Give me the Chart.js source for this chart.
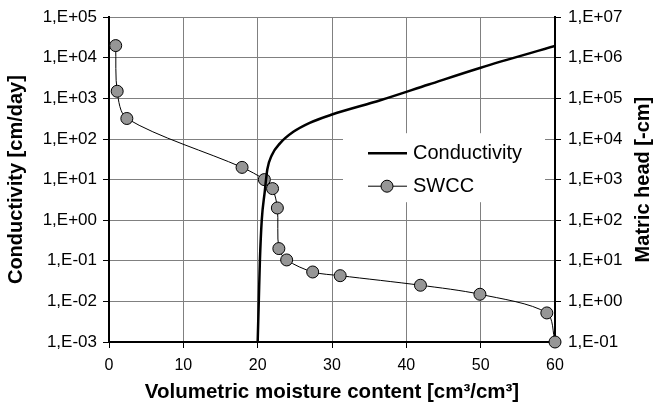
<!DOCTYPE html>
<html>
<head>
<meta charset="utf-8">
<script src="https://cdn.jsdelivr.net/npm/chart.js@4/dist/chart.umd.min.js"></script>
<style>
  html, body { margin: 0; padding: 0; background: #fff; }
  #wrap { width: 655px; height: 407px; }
</style>
</head>
<body>
<div id="wrap"><canvas id="chart" width="655" height="407"></canvas></div>
<script>
// data
const condTheta = [20.0, 20.15, 20.3, 20.55, 20.95, 21.3, 21.9, 23.0, 24.8, 27.0, 30.0, 36.5, 43.0, 50.0, 60.0];
const condK     = [0.001, 0.01, 0.1, 1, 5, 18, 40, 78, 150, 250, 400, 900, 2200, 5700, 19500];

const swccTheta = [0.9, 1.1, 2.4, 17.9, 20.9, 22.0, 22.65, 22.85, 23.9, 27.4, 31.1, 41.9, 49.9, 58.9, 60.0];
const swccHead  = [2e6, 1.5e5, 3.2e4, 2.0e3, 1.0e3, 6.0e2, 2.0e2, 20, 10.5, 5.3, 4.3, 2.5, 1.5, 0.52, 0.1];

const leftTicks  = [1e-3, 1e-2, 1e-1, 1e0, 1e1, 1e2, 1e3, 1e4, 1e5];
const rightTicks = [1e-1, 1e0, 1e1, 1e2, 1e3, 1e4, 1e5, 1e6, 1e7];

const FONT = "'Liberation Sans', Arial, sans-serif";

// excel style "1,E+05"
function sciLabel(v) {
  const e = Math.round(Math.log10(v));
  return '1,E' + (e < 0 ? '-' : '+') + String(Math.abs(e)).padStart(2, '0');
}

// legend box inside the plot (white background hides the grid)
const boxLegend = {
  id: 'boxLegend',
  beforeDatasetsDraw(chart) {
    const ctx = chart.ctx;
    const a = chart.chartArea;
    const x0 = a.left + 234, y0 = a.top + 116;
    ctx.save();
    ctx.fillStyle = '#fff';
    ctx.fillRect(x0, y0, 202, 69);

    ctx.strokeStyle = '#000';
    ctx.lineWidth = 2.5;
    ctx.beginPath();
    ctx.moveTo(x0 + 25, y0 + 20);
    ctx.lineTo(x0 + 64, y0 + 20);
    ctx.stroke();

    ctx.lineWidth = 1;
    ctx.beginPath();
    ctx.moveTo(x0 + 25, y0 + 53);
    ctx.lineTo(x0 + 64, y0 + 53);
    ctx.stroke();
    ctx.beginPath();
    ctx.arc(x0 + 44, y0 + 53, 6, 0, Math.PI * 2);
    ctx.fillStyle = '#969696';
    ctx.fill();
    ctx.stroke();

    ctx.fillStyle = '#000';
    ctx.font = '20px ' + FONT;
    ctx.textBaseline = 'middle';
    ctx.fillText('Conductivity', x0 + 70, y0 + 20);
    ctx.fillText('SWCC', x0 + 70, y0 + 53);
    ctx.restore();
  }
};

// right axis title reads bottom-to-top like the left one
const rightTitle = {
  id: 'rightTitle',
  afterDraw(chart) {
    const ctx = chart.ctx;
    const a = chart.chartArea;
    ctx.save();
    ctx.translate(chart.width - 12, (a.top + a.bottom) / 2);
    ctx.rotate(-Math.PI / 2);
    ctx.fillStyle = '#000';
    ctx.font = 'bold 20px ' + FONT;
    ctx.textAlign = 'center';
    ctx.textBaseline = 'middle';
    ctx.fillText('Matric head [-cm]', 0, 0);
    ctx.restore();
  }
};

const ctx = document.getElementById('chart').getContext('2d');
new Chart(ctx, {
  type: 'line',
  data: {
    datasets: [
      {
        label: 'Conductivity',
        data: condTheta.map((t, i) => ({ x: t, y: condK[i] })),
        yAxisID: 'y',
        borderColor: '#000',
        borderWidth: 2.5,
        pointRadius: 0,
        cubicInterpolationMode: 'monotone',
        fill: false
      },
      {
        label: 'SWCC',
        data: swccTheta.map((t, i) => ({ x: t, y: swccHead[i] })),
        yAxisID: 'y2',
        borderColor: '#000',
        borderWidth: 1,
        pointRadius: 6,
        pointBackgroundColor: '#969696',
        pointBorderColor: '#000',
        pointBorderWidth: 1,
        tension: 0.3,
        clip: false,
        fill: false
      }
    ]
  },
  options: {
    responsive: false,
    animation: false,
    devicePixelRatio: 1,
    layout: { padding: { top: 17, left: 0, right: 0, bottom: 0 } },
    plugins: {
      legend: { display: false },
      tooltip: { enabled: false }
    },
    scales: {
      x: {
        type: 'linear',
        min: 0, max: 60,
        afterFit(s) { s.height = 65; },
        ticks: { stepSize: 10, color: '#000', font: { family: FONT, size: 16 }, padding: 8, maxRotation: 0 },
        grid: { color: '#808080', lineWidth: 1, tickColor: '#000', tickLength: 6 },
        border: { color: '#000', width: 2 },
        title: {
          display: true,
          text: 'Volumetric moisture content [cm³/cm³]',
          color: '#000',
          font: { family: FONT, size: 20.5, weight: 'bold' },
          padding: { top: 0, bottom: 2 }
        }
      },
      y: {
        type: 'logarithmic',
        position: 'left',
        min: 1e-3, max: 1e5,
        afterFit(s) { s.width = 109; },
        afterBuildTicks(s) { s.ticks = leftTicks.map(v => ({ value: v })); },
        ticks: { callback: sciLabel, color: '#000', font: { family: FONT, size: 17 }, padding: 6 },
        grid: { color: '#808080', lineWidth: 1, tickColor: '#000', tickLength: 6 },
        border: { color: '#000', width: 2 },
        title: {
          display: true,
          text: 'Conductivity [cm/day]',
          color: '#000',
          font: { family: FONT, size: 20, weight: 'bold' },
          padding: { top: 4, bottom: 0 }
        }
      },
      y2: {
        type: 'logarithmic',
        position: 'right',
        min: 1e-1, max: 1e7,
        afterFit(s) { s.width = 100; },
        afterBuildTicks(s) { s.ticks = rightTicks.map(v => ({ value: v })); },
        ticks: { callback: sciLabel, color: '#000', font: { family: FONT, size: 17 }, padding: 7 },
        grid: { drawOnChartArea: false, tickColor: '#000', tickLength: 6 },
        border: { color: '#000', width: 2 }
      }
    }
  },
  plugins: [boxLegend, rightTitle]
});
</script>
</body>
</html>
